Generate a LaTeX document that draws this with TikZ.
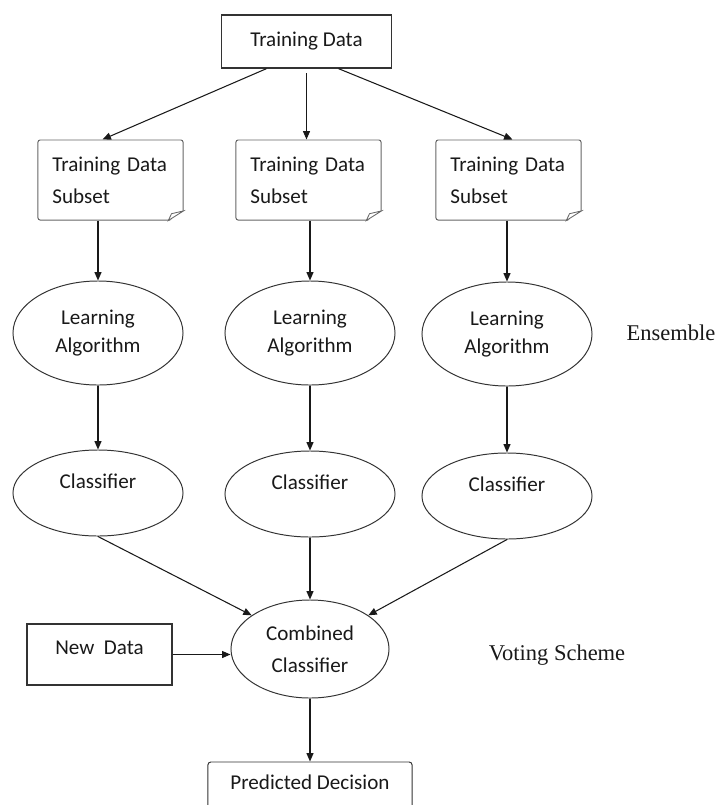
\documentclass[tikz,border=0pt]{standalone}
\usepackage{fontspec}
\setmainfont{Carlito}
\newfontfamily\serifname{Liberation Serif}
\usepackage{tikz}
\usetikzlibrary{arrows.meta,positioning,shapes.geometric}

\begin{document}
\begin{tikzpicture}[
    x=0.025cm, y=-0.025cm,
    >={Triangle[length=6pt,width=5pt]},
    databox/.style={rectangle, draw=black!80, line width=0.9pt, minimum width=4.25cm, minimum height=1.325cm, text=black!90, font=\fontsize{15}{18}\selectfont},
    subset/.style={rectangle, rounded corners=1.5pt, draw=black!60, line width=0.7pt, minimum width=3.625cm, minimum height=2cm, text width=2.9cm, inner xsep=0.36cm, align=left, text=black!90, font=\fontsize{15}{22.8}\selectfont},
    learner/.style={ellipse, draw=black!80, line width=0.7pt, minimum width=4.25cm, minimum height=2.6cm, align=center, text=black!90, font=\fontsize{15}{20}\selectfont},
    classif/.style={ellipse, draw=black!80, line width=0.7pt, minimum width=4.25cm, minimum height=2.15cm, text height=0.4cm, text depth=0.61cm, text=black!90, font=\fontsize{15}{18}\selectfont},
    voter/.style={ellipse, draw=black!80, line width=0.7pt, minimum width=3.95cm, minimum height=2.45cm, align=center, text=black!90, font=\fontsize{15}{22.8}\selectfont},
    sidelabel/.style={text=black!90, font=\serifname\fontsize{16}{19}\selectfont},
    arco/.style={->, line width=0.75pt, black!90},
]
\useasboundingbox (0,0) rectangle (717,805);
% ---------- Training data and subsets ----------
\node[databox] (td) at (306.5,41.5) {Training Data};
\node[subset]  (s1) at (110.5,180) {Training Data\\Subset};
\node[subset]  (s2) at (308.5,180) {Training Data\\Subset};
\node[subset]  (s3) at (508.5,180) {Training Data\\Subset};
\foreach \s in {s1,s2,s3} {
  \fill[white] ([xshift=-0.4cm,yshift=-0.05cm]\s.south east) -- ([xshift=0.05cm,yshift=-0.05cm]\s.south east) -- ([xshift=0.05cm,yshift=0.27cm]\s.south east) -- cycle;
  \draw[black!60, line width=0.6pt] ([xshift=-0.38cm]\s.south east) -- ([xshift=-0.3cm,yshift=0.17cm]\s.south east) -- ([yshift=0.24cm]\s.south east) -- cycle;
}
\draw[arco] ([xshift=-1cm]td.south) -- ([xshift=-0.2cm]s1.north);
\draw[arco] ([yshift=-0.12cm]td.south) -- (td.south |- s2.north);
\draw[arco] ([xshift=0.8cm]td.south) -- ([xshift=0.1cm]s3.north);
% ---------- Ensemble ----------
\node[learner] (l1) at (98,333) {Learning\\Algorithm};
\node[learner] (l2) at (310,333) {Learning\\Algorithm};
\node[learner] (l3) at (507,334) {Learning\\Algorithm};
\node[classif] (c1) at (98,493) {Classifier};
\node[classif] (c2) at (310,494) {Classifier};
\node[classif] (c3) at (507,496) {Classifier};
\node[sidelabel] (ens) at (671,333) {Ensemble};
\foreach \i in {1,2,3} {
  \draw[arco] (l\i.north |- s\i.south) -- (l\i.north);
  \draw[arco] (l\i.south) -- (c\i.north);
}
% ---------- Voting scheme ----------
\node[voter] (cc) at (310,649) {Combined\\Classifier};
\node[databox, minimum width=3.625cm, minimum height=1.525cm, text height=0.4cm, text depth=0.4cm] (nd) at (99.5,654.5) {New\ \ Data};
\node[databox, rounded corners=2pt, line width=0.7pt, minimum width=5.1cm, minimum height=1.6cm, text height=0.4cm, text depth=0.61cm] (pd) at (310,794) {Predicted Decision};
\node[sidelabel] (vs) at (557,655) {Voting Scheme};
\draw[arco] (c1.south) -- (cc.150);
\draw[arco] (c2.south) -- (cc.north);
\draw[arco] (c3.south) -- (cc.30);
\draw[arco] (nd.east) -- (nd.east -| cc.west);
\draw[arco] (cc.south) -- (pd.north);
\end{tikzpicture}
\end{document}
